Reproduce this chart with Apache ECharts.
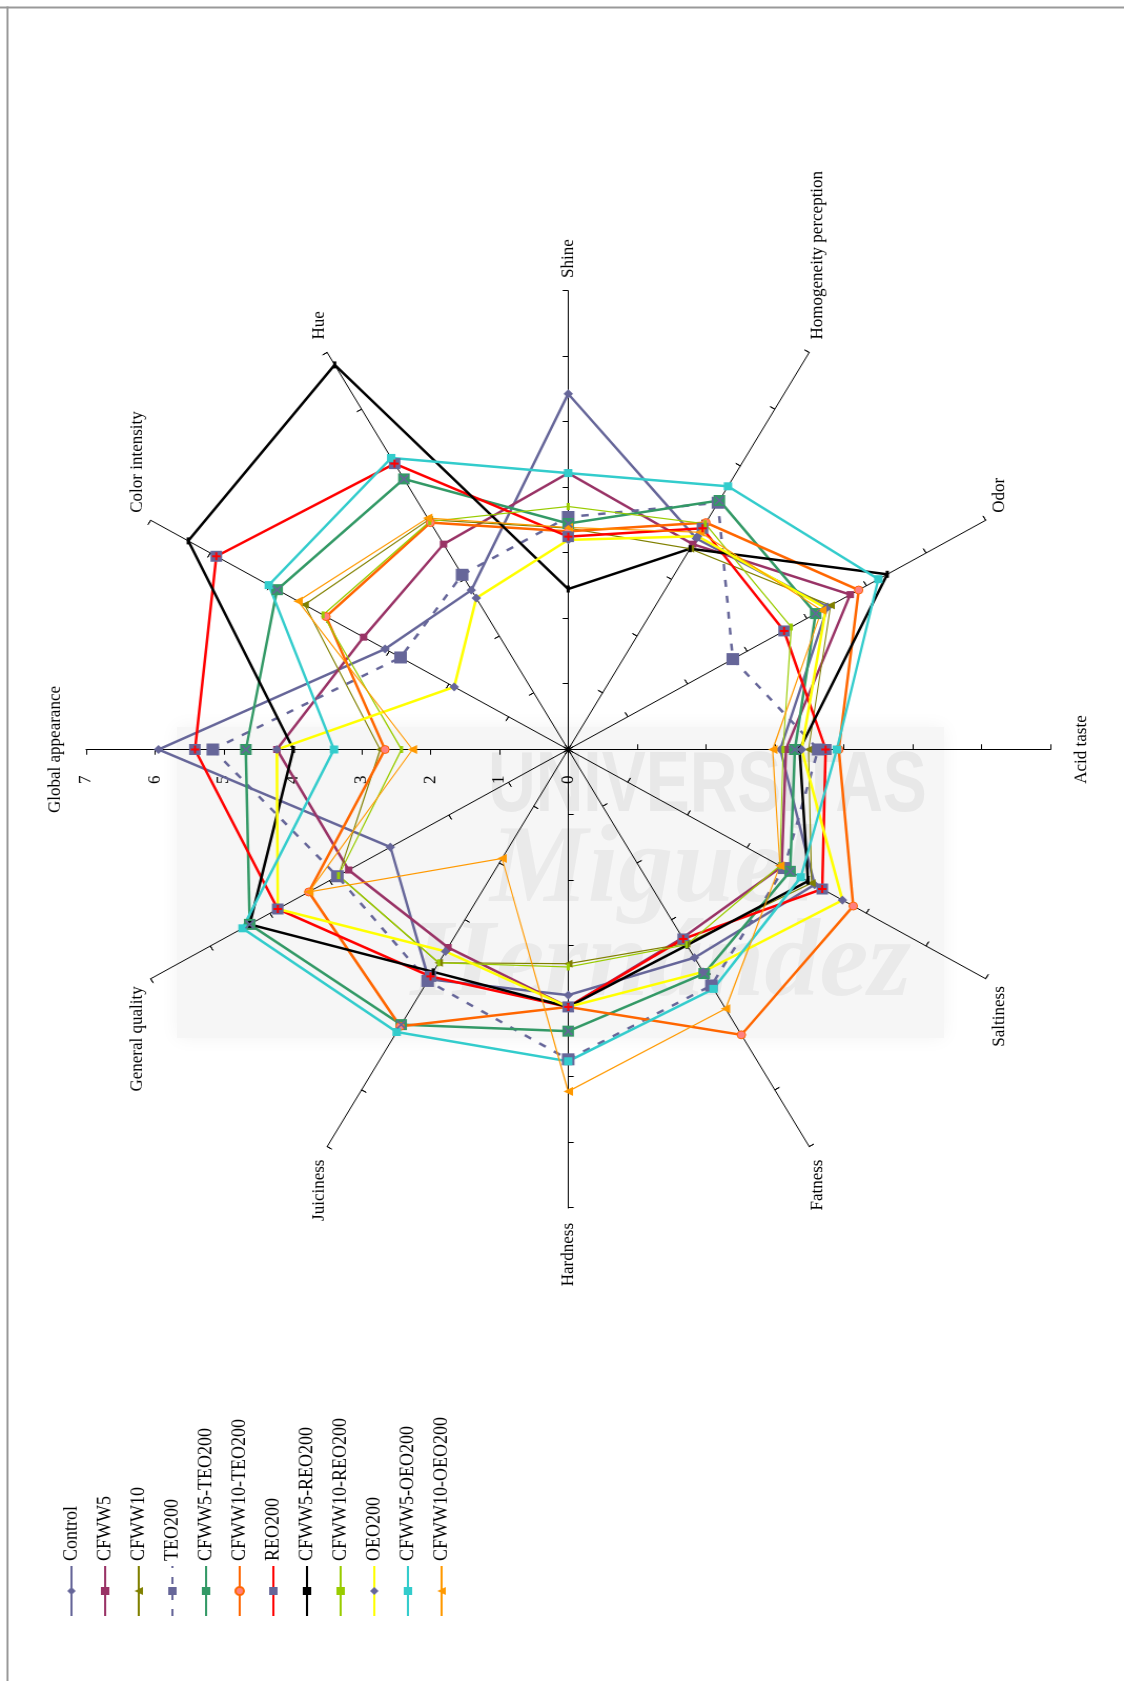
<!DOCTYPE html>
<html>
<head>
<meta charset="utf-8">
<title>Sensory profile radar</title>
<script src="https://cdn.jsdelivr.net/npm/echarts@6/dist/echarts.min.js"></script>
<style>
  html, body { margin: 0; padding: 0; width: 1124px; height: 1681px; overflow: hidden; background: #ffffff; }
  #bg { position: absolute; left: 0; top: 0; width: 1124px; height: 1681px; }
  /* The chart is laid out landscape and turned a quarter turn for the portrait page. */
  #chart {
    position: absolute; left: 0; top: 0; width: 1681px; height: 1069px;
    transform-origin: 0 0;
    transform: translate(0px, 1681px) rotate(-90deg) scale(1, 1.05145);
  }
</style>
</head>
<body>
<div id="bg"></div>
<div id="chart"></div>
<script>
// Sensory attributes, in the order the radar lays them out (counter-clockwise from the top)
const attributes = ['Global appearance', 'General quality', 'Juiciness', 'Hardness', 'Fatness', 'Saltiness',
  'Acid taste', 'Odor', 'Homogeneity perception', 'Shine', 'Hue', 'Color intensity'];
const scaleMax = 7;

// Panel scores per formulation (same order as attributes)
const control       = [5.95, 2.98, 4.05, 3.75, 3.67, 4.13, 3.08, 4.35, 3.72, 5.43, 2.81, 3.07];
const cfww5         = [4.23, 3.68, 3.49, 3.93, 3.32, 3.58, 3.16, 4.73, 3.62, 4.22, 3.62, 3.43];
const cfww10        = [2.73, 3.85, 3.76, 3.27, 3.42, 4.08, 3.49, 4.40, 3.54, 3.38, 4.05, 4.42];
const teo200        = [5.16, 3.87, 4.08, 4.73, 4.16, 3.62, 3.63, 2.76, 4.35, 3.55, 3.08, 2.81];
const cfww5Teo200   = [4.68, 5.34, 4.85, 4.30, 3.95, 3.72, 3.29, 4.15, 4.39, 3.45, 4.77, 4.88];
const cfww10Teo200  = [2.66, 4.35, 4.88, 3.93, 5.03, 4.78, 3.93, 4.87, 4.00, 3.33, 4.00, 4.06];
const reo200        = [5.42, 4.87, 4.00, 3.93, 3.34, 4.26, 3.74, 3.62, 3.90, 3.25, 5.04, 5.90];
const cfww5Reo200   = [3.99, 5.34, 3.92, 3.93, 3.45, 4.02, 3.36, 5.35, 3.54, 2.45, 6.78, 6.37];
const cfww10Reo200  = [2.42, 3.85, 3.76, 3.32, 3.44, 3.55, 3.12, 3.74, 3.98, 3.71, 4.02, 4.11];
const oeo200        = [4.23, 4.87, 3.56, 3.93, 3.92, 4.60, 3.39, 4.32, 3.76, 3.20, 2.67, 1.91];
const cfww5Oeo200   = [3.40, 5.46, 4.98, 4.76, 4.22, 3.90, 3.90, 5.20, 4.64, 4.22, 5.14, 5.02];
const cfww10Oeo200  = [2.26, 4.35, 1.92, 5.22, 4.57, 3.55, 2.97, 4.25, 3.83, 3.39, 4.08, 4.53];

const seriesNames = ['Control', 'CFWW5', 'CFWW10', 'TEO200', 'CFWW5-TEO200', 'CFWW10-TEO200',
  'REO200', 'CFWW5-REO200', 'CFWW10-REO200', 'OEO200', 'CFWW5-OEO200', 'CFWW10-OEO200'];
const seriesValues = [control, cfww5, cfww10, teo200, cfww5Teo200, cfww10Teo200,
  reo200, cfww5Reo200, cfww10Reo200, oeo200, cfww5Oeo200, cfww10Oeo200];

// Line and marker styling for each formulation
const SLATE = '#666699';
const styles = [
  { line: SLATE,     width: 2.5, marker: 'diamond',  size: 9,      fill: SLATE },
  { line: '#993366', width: 2.5, marker: 'rect',     size: 7,      fill: '#993366' },
  { line: '#808000', width: 1.2, marker: 'triangle', size: 8,      fill: '#808000' },
  { line: SLATE,     width: 2.5, marker: 'rect',     size: 12,     fill: SLATE, dash: [7, 9] },
  { line: '#339966', width: 2.5, marker: 'rect',     size: 11,     fill: '#339966' },
  { line: '#FF6600', width: 2.5, marker: 'circle',   size: 8,      fill: '#FF8080', border: '#FF6600' },
  { line: '#FF0000', width: 2.5, marker: 'rect',     size: 11,     fill: SLATE },
  { line: '#000000', width: 2.5, marker: 'rect',     size: [7, 3], fill: '#000000' },
  { line: '#99CC00', width: 1.2, marker: 'rect',     size: [7, 3], fill: '#99CC00' },
  { line: '#FFFF00', width: 2.5, marker: 'diamond',  size: 9,      fill: SLATE },
  { line: '#33CCCC', width: 2.5, marker: 'rect',     size: 8,      fill: '#33CCCC' },
  { line: '#FF9900', width: 1.2, marker: 'triangle', size: 9,      fill: '#FF9900' }
];
// Extra glyphs drawn inside some square markers
const PLUS = 'path://M3,0H5V3H8V5H5V8H3V5H0V3H3Z';
const CROSS = 'path://M0,1L1,0L4,3L7,0L8,1L5,4L8,7L7,8L4,5L1,8L0,7L3,4Z';
const innerGlyphs = [
  { index: 4, symbol: CROSS, size: 9, color: SLATE },
  { index: 6, symbol: PLUS, size: 8, color: '#FF0000' }
];

const FONT = 'Liberation Serif';
const CENTER = [931.5, 540.4];
const RADIUS = 458.5;

const mainIndicators = attributes.map(function (name, i) {
  const ind = { name: name, min: 0, max: scaleMax };
  if (i === 0) { ind.axisLabel = { show: true }; }
  if (i === 0 || i === 6) { ind.nameGap = 21; }
  if (i === 9) { ind.nameGap = 13; }
  return ind;
});
const tickIndicators = attributes.map(function (name) {
  return { name: name, min: 0, max: scaleMax };
});

const series = [];
// Line proxies: they give the legend its line-and-marker keys
seriesNames.forEach(function (name, i) {
  const st = styles[i];
  series.push({
    type: 'line', name: name, xAxisIndex: 0, yAxisIndex: 0, data: [],
    symbol: st.marker, symbolSize: st.size,
    itemStyle: { color: st.fill, borderColor: st.border || st.fill, borderWidth: st.border ? 1 : 0 },
    lineStyle: { color: st.line, width: st.width, type: st.dash || 'solid' }
  });
});
// Radar profiles
seriesNames.forEach(function (name, i) {
  const st = styles[i];
  series.push({
    type: 'radar', name: name, radarIndex: 0, z: 3,
    symbol: st.marker, symbolSize: st.size,
    itemStyle: { color: st.fill, borderColor: st.border || st.fill, borderWidth: st.border ? 1 : 0 },
    lineStyle: { color: st.line, width: st.width, type: st.dash || 'solid' },
    data: [{ name: name, value: seriesValues[i] }]
  });
});
innerGlyphs.forEach(function (g) {
  series.push({
    type: 'radar', radarIndex: 0, z: 4, silent: true,
    symbol: g.symbol, symbolSize: g.size,
    itemStyle: { color: g.color },
    lineStyle: { width: 0, opacity: 0 },
    data: [{ name: seriesNames[g.index], value: seriesValues[g.index] }]
  });
});

const chart = echarts.init(document.getElementById('chart'));
chart.setOption({
  animation: false,
  backgroundColor: 'transparent',
  grid: { show: false, left: 0, top: 0, width: 10, height: 10 },
  xAxis: { type: 'value', show: false },
  yAxis: { type: 'value', show: false },
  legend: {
    orient: 'vertical', left: 64, top: 59, padding: 0,
    itemWidth: 50, itemHeight: 10, itemGap: 14,
    textStyle: { fontFamily: FONT, fontSize: 18, color: '#000', lineHeight: 18 },
    data: seriesNames
  },
  radar: [
    {
      center: CENTER, radius: RADIUS, startAngle: 90, shape: 'polygon', splitNumber: scaleMax,
      indicator: mainIndicators,
      nameGap: 15,
      axisName: { color: '#000', fontFamily: FONT, fontSize: 17 },
      axisLine: { show: true, lineStyle: { color: '#000', width: 1 } },
      axisTick: { show: true, length: 5, lineStyle: { color: '#000', width: 1 } },
      axisLabel: { show: false, color: '#000', fontFamily: FONT, fontSize: 17, margin: 26,
        showMinLabel: true, showMaxLabel: true },
      splitLine: { show: false },
      splitArea: { show: false }
    },
    {
      center: CENTER, radius: RADIUS, startAngle: 90, shape: 'polygon', splitNumber: scaleMax,
      indicator: tickIndicators,
      axisName: { show: false },
      axisLine: { show: false },
      axisTick: { show: true, inside: true, length: 5, lineStyle: { color: '#000', width: 1 } },
      axisLabel: { show: false },
      splitLine: { show: false },
      splitArea: { show: false }
    }
  ],
  series: series
});

// Page frame and the faint university watermark behind the chart
const bg = echarts.init(document.getElementById('bg'));
bg.setOption({
  animation: false,
  graphic: [
    { type: 'rect', shape: { x: 177, y: 727, width: 767, height: 311 },
      style: { fill: '#F6F6F6', shadowBlur: 18, shadowColor: '#F3F3F3' }, silent: true },
    { type: 'text', x: 488, y: 744, scaleY: 1.3, originX: 0, originY: 0, silent: true,
      style: { text: 'UNIVERSITAS', font: 'bold 66px "Liberation Sans"', fill: '#E8E8E8' } },
    { type: 'text', x: 490, y: 818, silent: true,
      style: { text: 'Miguel', font: 'italic bold 110px "Liberation Serif"', fill: '#EAEAEA' } },
    { type: 'text', x: 410, y: 912, silent: true,
      style: { text: 'Hernández', font: 'italic bold 110px "Liberation Serif"', fill: '#EAEAEA' } },
    { type: 'line', shape: { x1: 0, y1: 7.5, x2: 1124, y2: 7.5 },
      style: { stroke: '#999999', lineWidth: 2 }, silent: true },
    { type: 'line', shape: { x1: 7.5, y1: 6.5, x2: 7.5, y2: 1681 },
      style: { stroke: '#999999', lineWidth: 2 }, silent: true }
  ]
});
</script>
</body>
</html>
